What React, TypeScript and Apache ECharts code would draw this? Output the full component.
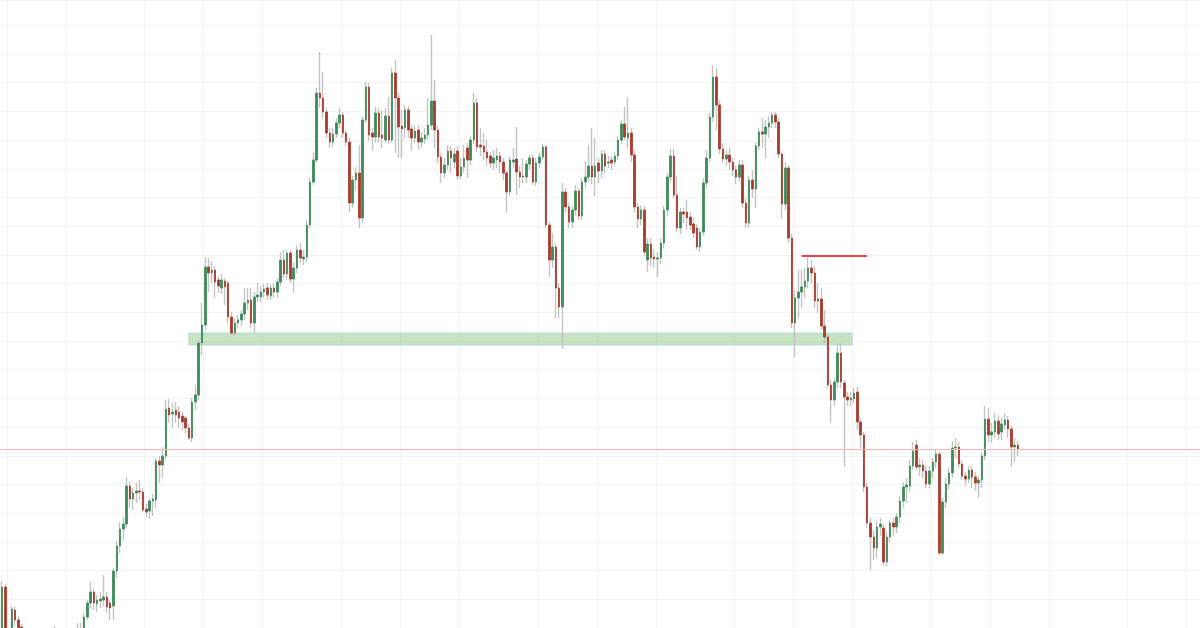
import React, { useEffect, useRef } from "react";
import * as echarts from "echarts";

// 4-hour bars, values on the chart's price scale (one grid step = 28.7)
const opens = [
  -12, 41, -8, -15, 18, 8, 1, -12, -25, -20,
  -32, -28, -38, -30, -22, -15, -12, -8, -18, -25,
  -20, -14, -10, -12, -6, -8, 11, 25, 36, 24,
  27, 28, 31, 25, 22, 57, 82, 99, 104, 142,
  129, 135, 137, 136, 119, 117, 127, 128, 167, 163,
  172, 220, 214, 218, 216, 212, 210, 200, 190, 226,
  233, 285, 303, 361, 355, 358, 348, 340, 347, 345,
  311, 295, 305, 308, 314, 325, 328, 305, 331, 331,
  336, 340, 332, 340, 336, 346, 368, 354, 375, 349,
  360, 378, 369, 371, 403, 446, 468, 535, 530, 516,
  495, 486, 494, 505, 513, 495, 486, 425, 448, 455,
  410, 508, 541, 495, 491, 515, 493, 488, 512, 488,
  555, 530, 502, 500, 518, 499, 490, 498, 486, 489,
  493, 503, 527, 498, 471, 455, 463, 477, 466, 477,
  452, 461, 480, 468, 488, 525, 483, 482, 476, 472,
  465, 468, 472, 466, 455, 436, 466, 469, 456, 451,
  451, 464, 470, 446, 465, 471, 481, 403, 368, 381,
  340, 321, 436, 421, 406, 418, 437, 412, 446, 451,
  462, 451, 465, 457, 474, 465, 468, 466, 472, 488,
  504, 490, 495, 473, 421, 409, 418, 368, 384, 371,
  369, 370, 385, 418, 451, 472, 433, 400, 416, 416,
  411, 404, 400, 381, 396, 445, 470, 511, 551, 523,
  479, 469, 473, 466, 458, 451, 463, 425, 405, 448,
  439, 482, 496, 494, 501, 505, 513, 506, 474, 424,
  460, 390, 305, 330, 336, 341, 347, 360, 355, 329,
  329, 302, 291, 243, 228, 246, 275, 245, 231, 228,
  229, 236, 206, 193, 141, 105, 91, 80, 101, 100,
  66, 91, 105, 101, 111, 127, 141, 142, 162, 183,
  161, 163, 157, 144, 157, 166, 174, 75, 126, 144,
  155, 180, 181, 164, 152, 149, 158, 151, 145, 148,
  172, 209, 193, 196, 207, 196, 203, 208, 199, 181, 183,
];

const closes = [
  41, -12, -18, 19, 8, -4, -12, -25, -20, -32,
  -28, -38, -30, -22, -15, -12, -8, -18, -25, -20,
  -14, -10, -12, -6, -8, 11, 25, 36, 25, 28,
  29, 31, 21, 20, 57, 82, 99, 104, 142, 129,
  135, 137, 136, 118, 116, 127, 129, 167, 163, 172,
  219, 213, 216, 213, 210, 206, 200, 190, 226, 233,
  285, 303, 361, 355, 358, 346, 342, 348, 341, 311,
  295, 305, 308, 314, 325, 328, 305, 331, 333, 336,
  339, 333, 340, 336, 346, 368, 354, 375, 349, 360,
  378, 370, 371, 403, 446, 468, 535, 530, 516, 495,
  486, 494, 505, 513, 495, 486, 425, 448, 455, 410,
  508, 541, 493, 491, 515, 491, 490, 512, 488, 555,
  530, 501, 499, 518, 498, 490, 497, 486, 490, 493,
  503, 527, 498, 471, 455, 463, 477, 470, 474, 452,
  461, 470, 468, 488, 525, 481, 481, 476, 470, 465,
  470, 472, 466, 455, 436, 468, 468, 456, 451, 452,
  464, 470, 446, 465, 471, 481, 403, 368, 381, 340,
  321, 436, 421, 406, 418, 437, 412, 446, 451, 462,
  451, 462, 457, 474, 462, 466, 465, 472, 488, 504,
  491, 495, 473, 421, 409, 418, 376, 384, 370, 369,
  370, 385, 418, 451, 472, 433, 400, 416, 414, 410,
  403, 395, 381, 396, 445, 470, 511, 551, 523, 479,
  469, 473, 466, 458, 451, 463, 425, 405, 448, 439,
  482, 496, 494, 501, 505, 513, 506, 474, 424, 460,
  390, 305, 330, 336, 341, 347, 360, 355, 327, 327,
  302, 291, 243, 228, 246, 275, 246, 231, 228, 230,
  235, 206, 193, 141, 105, 91, 80, 101, 104, 66,
  91, 105, 101, 111, 127, 141, 143, 162, 177, 161,
  163, 157, 144, 157, 166, 174, 75, 126, 144, 155,
  180, 181, 164, 152, 149, 158, 151, 145, 148, 172,
  209, 193, 196, 207, 194, 204, 208, 199, 181, 183, 179,
];

const lows = [
  -17, -20, -25, -20, 2, -10, -18, -30, -32, -38,
  -40, -45, -44, -34, -28, -22, -18, -22, -32, -30,
  -26, -20, -18, -16, -14, -12, 8, 20, 18, 16,
  20, 22, 15, 8, 8, 50, 75, 88, 100, 120,
  118, 125, 128, 116, 110, 109, 112, 120, 145, 150,
  168, 205, 200, 205, 200, 198, 195, 188, 186, 218,
  228, 273, 298, 336, 345, 330, 335, 334, 323, 305,
  291, 292, 300, 302, 308, 318, 300, 295, 326, 326,
  330, 328, 328, 330, 330, 342, 350, 348, 345, 335,
  355, 365, 363, 366, 400, 443, 465, 520, 510, 490,
  480, 481, 490, 500, 490, 482, 416, 420, 438, 400,
  405, 505, 487, 478, 485, 486, 480, 485, 484, 485,
  475, 470, 470, 490, 490, 478, 485, 478, 480, 484,
  488, 498, 480, 465, 445, 450, 458, 455, 460, 448,
  449, 455, 450, 463, 484, 476, 472, 468, 462, 460,
  458, 460, 455, 448, 415, 432, 460, 433, 440, 445,
  445, 458, 443, 442, 460, 468, 400, 351, 360, 310,
  310, 279, 415, 400, 400, 412, 408, 408, 440, 446,
  444, 432, 445, 450, 455, 460, 458, 462, 468, 484,
  488, 480, 466, 415, 400, 403, 372, 356, 362, 360,
  351, 364, 380, 412, 446, 430, 396, 394, 405, 398,
  398, 390, 378, 376, 392, 440, 466, 506, 498, 474,
  465, 462, 458, 452, 444, 446, 420, 400, 400, 430,
  420, 478, 480, 470, 490, 500, 500, 470, 409, 418,
  385, 300, 271, 310, 320, 330, 340, 345, 320, 315,
  298, 285, 240, 205, 222, 240, 240, 161, 222, 222,
  225, 198, 180, 136, 100, 58, 68, 70, 92, 62,
  62, 86, 92, 95, 105, 120, 125, 136, 158, 158,
  152, 150, 140, 140, 150, 160, 73, 73, 120, 138,
  150, 170, 160, 148, 142, 145, 140, 137, 130, 140,
  168, 186, 185, 190, 188, 188, 198, 190, 161, 166, 172,
];

const highs = [
  47, 44, -3, 22, 21, 12, 4, -8, -15, -16,
  -22, -24, -26, -16, -10, -5, 2, -4, -12, -14,
  -8, -4, -3, 5, 5, 15, 28, 47, 40, 33,
  36, 53, 36, 28, 60, 87, 106, 111, 151, 146,
  140, 145, 148, 140, 124, 130, 134, 170, 172, 181,
  228, 229, 225, 226, 222, 216, 212, 204, 230, 243,
  288, 325, 371, 370, 367, 362, 352, 354, 350, 347,
  316, 310, 313, 318, 340, 340, 340, 336, 345, 342,
  344, 345, 344, 344, 350, 376, 378, 378, 378, 366,
  383, 385, 378, 408, 450, 475, 540, 576, 556, 520,
  500, 500, 510, 520, 516, 498, 490, 452, 461, 483,
  512, 546, 545, 500, 521, 520, 518, 520, 531, 560,
  568, 535, 518, 523, 522, 503, 502, 503, 496, 500,
  530, 593, 548, 502, 475, 470, 483, 482, 480, 482,
  470, 483, 485, 492, 535, 530, 500, 495, 488, 476,
  478, 480, 476, 470, 458, 472, 480, 501, 462, 470,
  468, 474, 473, 470, 475, 484, 483, 406, 395, 385,
  345, 445, 440, 425, 422, 443, 440, 450, 467, 483,
  500, 490, 470, 478, 478, 472, 472, 476, 492, 508,
  521, 530, 500, 478, 425, 423, 422, 390, 390, 378,
  376, 390, 422, 455, 479, 479, 452, 420, 420, 428,
  416, 410, 404, 400, 450, 478, 515, 563, 560, 528,
  485, 478, 480, 470, 462, 468, 468, 430, 452, 458,
  486, 500, 510, 508, 512, 516, 516, 510, 477, 466,
  463, 394, 338, 358, 358, 360, 370, 368, 362, 345,
  340, 318, 295, 248, 250, 285, 285, 248, 236, 236,
  240, 241, 210, 196, 145, 110, 98, 107, 110, 104,
  96, 108, 110, 115, 132, 146, 150, 168, 186, 188,
  170, 168, 162, 162, 170, 178, 176, 130, 150, 160,
  187, 190, 186, 168, 156, 162, 162, 156, 152, 176,
  222, 220, 205, 215, 212, 210, 215, 212, 202, 190, 187,
];

// time slots on the x axis (bars plus empty space to the right)
const slotCount = 366;
const categories = Array.from({ length: slotCount }, (_, i) => `bar ${i + 1}`);
// slots where a new day label / vertical grid line falls
const daySlots = [2, 20, 44, 62, 80, 104, 122, 140, 164, 182, 200, 224, 242, 260, 284, 302, 320, 344, 362];

// annotations (x in slot units, y in price units)
const supportZoneX = [57.5, 259.9];
const supportZoneY = [283, 295];
const resistanceX = [244.6, 264.4];
const resistanceY = 372;

const UP = "#3d8a5a";
const DOWN = "#a83a2c";
const WICK = "#c4c4c4";
const GRID = "#f2f2f2";
const PRICE_LINE = "#f5b9b1";

export default function App() {
  const ref = useRef<HTMLDivElement>(null);

  useEffect(() => {
    if (!ref.current) return;
    const chart = echarts.init(ref.current, undefined, { renderer: "svg" });
    const n = Math.min(opens.length, closes.length, lows.length, highs.length);
    const full: number[][] = [];
    const bodies: number[][] = [];
    for (let i = 0; i < n; i++) {
      full.push([opens[i], closes[i], lows[i], highs[i]]);
      bodies.push([
        opens[i],
        closes[i],
        Math.min(opens[i], closes[i]),
        Math.max(opens[i], closes[i]),
      ]);
    }
    const lastClose = closes[n - 1];

    chart.setOption({
      animation: false,
      backgroundColor: "#ffffff",
      grid: { left: 0.446, top: 0, width: slotCount * 3.277, height: 628, containLabel: false },
      xAxis: [
        {
          type: "category",
          data: categories,
          boundaryGap: true,
          axisLine: { show: false },
          axisTick: { show: false },
          axisLabel: { show: false },
          splitLine: {
            show: true,
            interval: (index: number) => daySlots.includes(index),
            lineStyle: { color: GRID, width: 1 },
          },
        },
        {
          type: "value",
          min: 0,
          max: slotCount,
          show: false,
          splitLine: { show: false },
        },
      ],
      yAxis: {
        type: "value",
        min: 0,
        max: 628,
        interval: 28.7,
        axisLine: { show: false },
        axisTick: { show: false },
        axisLabel: { show: false },
        splitLine: { show: true, lineStyle: { color: GRID, width: 1 } },
      },
      series: [
        {
          type: "line",
          xAxisIndex: 1,
          yAxisIndex: 0,
          z: 1,
          color: PRICE_LINE,
          data: [[0, lastClose]],
          symbol: "none",
          showSymbol: false,
          lineStyle: { opacity: 0 },
          silent: true,
          markArea: {
            silent: true,
            itemStyle: {
              color: "rgba(129,194,120,0.45)",
              borderColor: "#b7d8de",
              borderWidth: 1,
            },
            data: [
              [
                { coord: [supportZoneX[0], supportZoneY[0]] },
                { coord: [supportZoneX[1], supportZoneY[1]] },
              ],
            ],
          },
          markLine: {
            silent: true,
            symbol: ["none", "none"],
            label: { show: false },
            data: [
              [
                { coord: [0, lastClose], lineStyle: { color: PRICE_LINE, width: 1, type: "solid", opacity: 1 } },
                { coord: [slotCount, lastClose] },
              ],
              [
                { coord: [resistanceX[0], resistanceY], lineStyle: { color: "#e8433d", width: 2, type: "solid", opacity: 1 } },
                { coord: [resistanceX[1], resistanceY] },
              ],
            ],
          },
        },
        {
          type: "candlestick",
          name: "wicks",
          z: 2,
          clip: true,
          barWidth: 1,
          data: full,
          itemStyle: {
            color: WICK,
            color0: WICK,
            borderColor: WICK,
            borderColor0: WICK,
            borderWidth: 1.4,
          },
          silent: true,
        },
        {
          type: "candlestick",
          name: "bodies",
          z: 3,
          clip: true,
          barWidth: 2,
          data: bodies,
          itemStyle: {
            color: UP,
            color0: DOWN,
            borderColor: UP,
            borderColor0: DOWN,
            borderWidth: 0.8,
          },
          silent: true,
        },
      ],
    });
    return () => chart.dispose();
  }, []);

  return (
    <div
      ref={ref}
      style={{ position: "fixed", left: 0, top: 0, width: 1200, height: 628, background: "#fff" }}
    />
  );
}
